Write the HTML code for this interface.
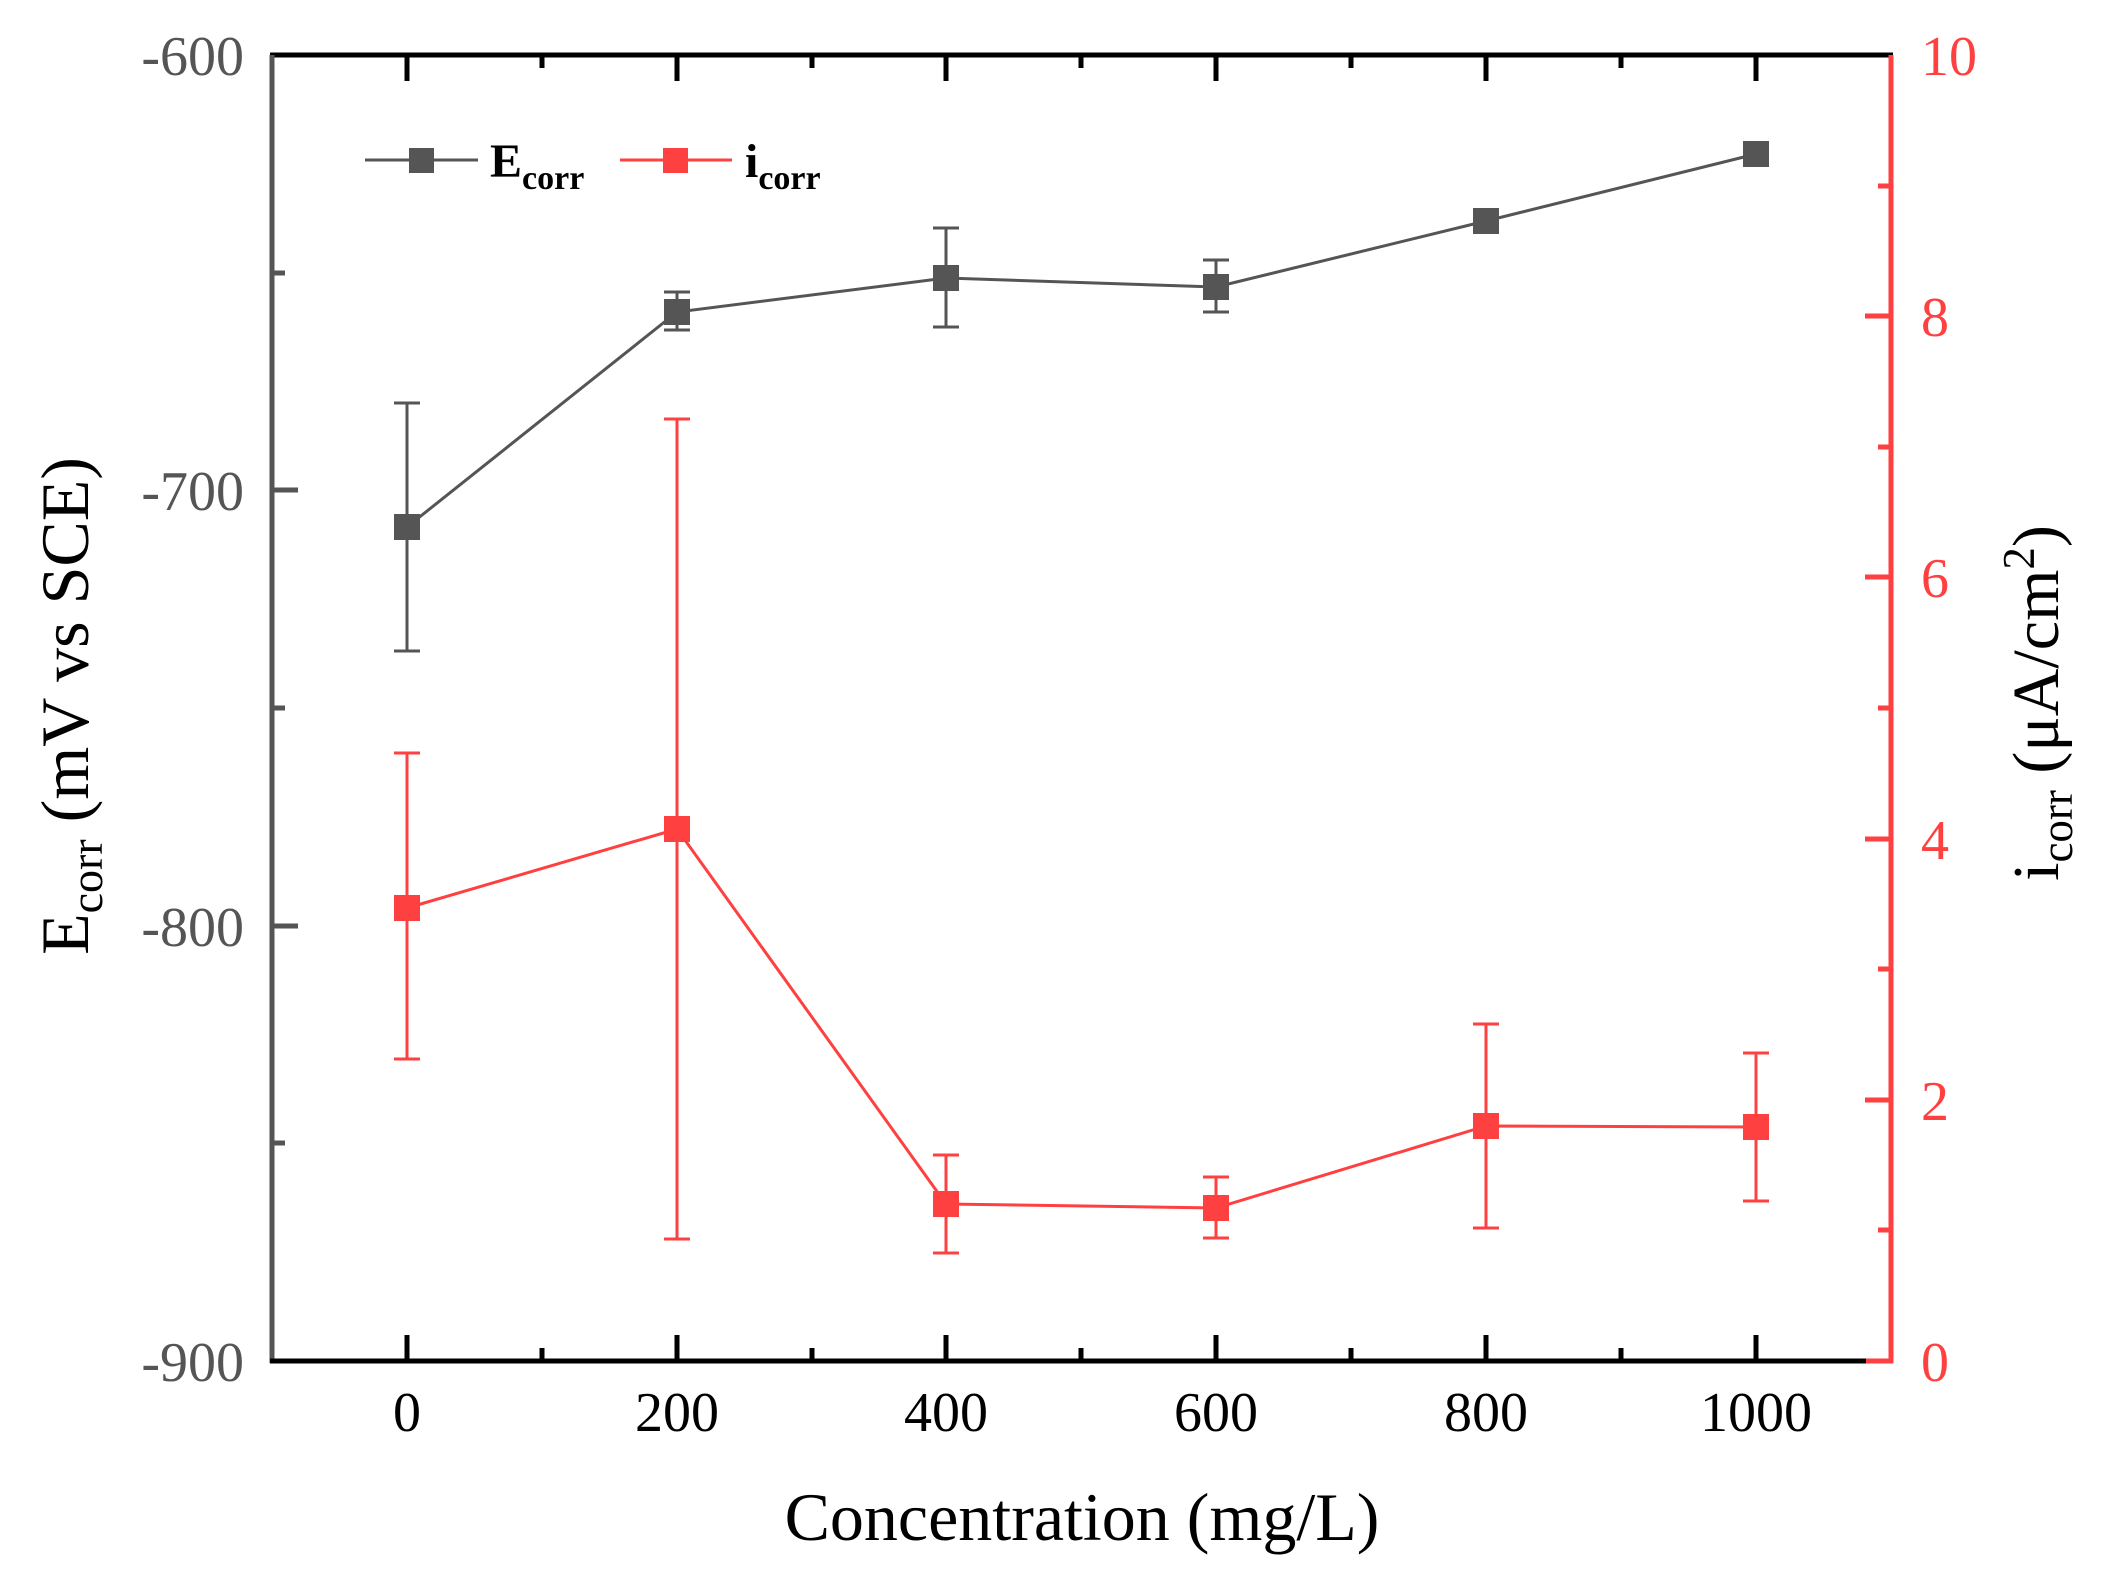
<!DOCTYPE html>
<html><head><meta charset="utf-8"><style>html,body{margin:0;padding:0;background:#fff}svg{display:block}</style></head>
<body>
<svg width="2122" height="1593" viewBox="0 0 2122 1593" xmlns="http://www.w3.org/2000/svg" font-family="Liberation Serif, serif">
<rect width="2122" height="1593" fill="#fff"/>
<!-- axes -->
<line x1="270" y1="55" x2="1893" y2="55" stroke="#000" stroke-width="5"/>
<line x1="272" y1="55" x2="272" y2="1363" stroke="#555" stroke-width="5"/>
<line x1="270" y1="1361" x2="1866" y2="1361" stroke="#000" stroke-width="5"/>
<line x1="1866" y1="1361" x2="1893" y2="1361" stroke="#ff4040" stroke-width="5"/>
<line x1="1891" y1="55" x2="1891" y2="1363" stroke="#ff4040" stroke-width="5"/>
<g stroke="#000" stroke-width="5">
<line x1="407" y1="1361" x2="407" y2="1335"/><line x1="677" y1="1361" x2="677" y2="1335"/><line x1="946" y1="1361" x2="946" y2="1335"/><line x1="1216" y1="1361" x2="1216" y2="1335"/><line x1="1486" y1="1361" x2="1486" y2="1335"/><line x1="1756" y1="1361" x2="1756" y2="1335"/>
<line x1="542" y1="1361" x2="542" y2="1348"/><line x1="812" y1="1361" x2="812" y2="1348"/><line x1="1081" y1="1361" x2="1081" y2="1348"/><line x1="1351" y1="1361" x2="1351" y2="1348"/><line x1="1621" y1="1361" x2="1621" y2="1348"/>
<line x1="407" y1="55" x2="407" y2="81"/><line x1="677" y1="55" x2="677" y2="81"/><line x1="946" y1="55" x2="946" y2="81"/><line x1="1216" y1="55" x2="1216" y2="81"/><line x1="1486" y1="55" x2="1486" y2="81"/><line x1="1756" y1="55" x2="1756" y2="81"/>
<line x1="542" y1="55" x2="542" y2="68"/><line x1="812" y1="55" x2="812" y2="68"/><line x1="1081" y1="55" x2="1081" y2="68"/><line x1="1351" y1="55" x2="1351" y2="68"/><line x1="1621" y1="55" x2="1621" y2="68"/>
</g>
<g stroke="#555" stroke-width="5">
<line x1="272" y1="490" x2="298" y2="490"/><line x1="272" y1="926" x2="298" y2="926"/>
<line x1="272" y1="273" x2="285" y2="273"/><line x1="272" y1="708" x2="285" y2="708"/><line x1="272" y1="1143" x2="285" y2="1143"/>
</g>
<g stroke="#ff4040" stroke-width="5">
<line x1="1891" y1="316" x2="1865" y2="316"/><line x1="1891" y1="577" x2="1865" y2="577"/><line x1="1891" y1="839" x2="1865" y2="839"/><line x1="1891" y1="1100" x2="1865" y2="1100"/>
<line x1="1891" y1="186" x2="1878" y2="186"/><line x1="1891" y1="447" x2="1878" y2="447"/><line x1="1891" y1="708" x2="1878" y2="708"/><line x1="1891" y1="969" x2="1878" y2="969"/><line x1="1891" y1="1230" x2="1878" y2="1230"/>
</g>
<!-- tick labels -->
<g font-size="56" fill="#000" text-anchor="middle">
<text x="407" y="1431">0</text><text x="677" y="1431">200</text><text x="946" y="1431">400</text><text x="1216" y="1431">600</text><text x="1486" y="1431">800</text><text x="1756" y="1431">1000</text>
</g>
<g font-size="56" fill="#555" text-anchor="end">
<text x="244" y="75">-600</text><text x="244" y="510">-700</text><text x="244" y="946">-800</text><text x="244" y="1381">-900</text>
</g>
<g font-size="56" fill="#ff4040" text-anchor="start">
<text x="1921" y="75">10</text><text x="1921" y="336">8</text><text x="1921" y="597">6</text><text x="1921" y="859">4</text><text x="1921" y="1120">2</text><text x="1921" y="1381">0</text>
</g>
<!-- axis titles -->
<text x="1082" y="1540" font-size="68" text-anchor="middle" fill="#000">Concentration (mg/L)</text>
<text transform="translate(88,706) rotate(-90)" font-size="68" text-anchor="middle" fill="#000">E<tspan font-size="46" dy="14">corr</tspan><tspan dy="-14"> (mV vs SCE)</tspan></text>
<text transform="translate(2058,703) rotate(-90)" font-size="66" text-anchor="middle" fill="#000">i<tspan font-size="45" dy="14">corr</tspan><tspan dy="-14"> (μA/cm</tspan><tspan font-size="45" dy="-24">2</tspan><tspan dy="24">)</tspan></text>
<!-- E series -->
<g stroke="#555" stroke-width="3" fill="none">
<polyline points="407,527 677,312 946,278 1216,287 1486,221 1756,154"/>
<line x1="407" y1="403" x2="407" y2="651"/><line x1="394" y1="403" x2="420" y2="403"/><line x1="394" y1="651" x2="420" y2="651"/>
<line x1="677" y1="292" x2="677" y2="330"/><line x1="664" y1="292" x2="690" y2="292"/><line x1="664" y1="330" x2="690" y2="330"/>
<line x1="946" y1="228" x2="946" y2="327"/><line x1="933" y1="228" x2="959" y2="228"/><line x1="933" y1="327" x2="959" y2="327"/>
<line x1="1216" y1="260" x2="1216" y2="312"/><line x1="1203" y1="260" x2="1229" y2="260"/><line x1="1203" y1="312" x2="1229" y2="312"/>
</g>
<g fill="#555">
<rect x="394" y="514" width="26" height="26"/><rect x="664" y="299" width="26" height="26"/><rect x="933" y="265" width="26" height="26"/><rect x="1203" y="274" width="26" height="26"/><rect x="1473" y="208" width="26" height="26"/><rect x="1743" y="141" width="26" height="26"/>
</g>
<!-- i series -->
<g stroke="#ff4040" stroke-width="3" fill="none">
<polyline points="407,908 677,829 946,1204 1216,1208 1486,1126 1756,1127"/>
<line x1="407" y1="753" x2="407" y2="1059"/><line x1="394" y1="753" x2="420" y2="753"/><line x1="394" y1="1059" x2="420" y2="1059"/>
<line x1="677" y1="419" x2="677" y2="1239"/><line x1="664" y1="419" x2="690" y2="419"/><line x1="664" y1="1239" x2="690" y2="1239"/>
<line x1="946" y1="1155" x2="946" y2="1253"/><line x1="933" y1="1155" x2="959" y2="1155"/><line x1="933" y1="1253" x2="959" y2="1253"/>
<line x1="1216" y1="1177" x2="1216" y2="1238"/><line x1="1203" y1="1177" x2="1229" y2="1177"/><line x1="1203" y1="1238" x2="1229" y2="1238"/>
<line x1="1486" y1="1024" x2="1486" y2="1228"/><line x1="1473" y1="1024" x2="1499" y2="1024"/><line x1="1473" y1="1228" x2="1499" y2="1228"/>
<line x1="1756" y1="1053" x2="1756" y2="1201"/><line x1="1743" y1="1053" x2="1769" y2="1053"/><line x1="1743" y1="1201" x2="1769" y2="1201"/>
</g>
<g fill="#ff4040">
<rect x="394" y="895" width="26" height="26"/><rect x="664" y="816" width="26" height="26"/><rect x="933" y="1191" width="26" height="26"/><rect x="1203" y="1195" width="26" height="26"/><rect x="1473" y="1113" width="26" height="26"/><rect x="1743" y="1114" width="26" height="26"/>
</g>
<!-- legend -->
<line x1="365" y1="160" x2="478" y2="160" stroke="#555" stroke-width="3"/>
<rect x="409" y="148" width="25" height="25" fill="#555"/>
<text x="490" y="177" font-size="48" font-weight="bold" fill="#000">E<tspan font-size="34" dy="12">corr</tspan></text>
<line x1="620" y1="160" x2="732" y2="160" stroke="#ff4040" stroke-width="3"/>
<rect x="663" y="148" width="25" height="25" fill="#ff4040"/>
<text x="745" y="177" font-size="48" font-weight="bold" fill="#000">i<tspan font-size="34" dy="12">corr</tspan></text>
</svg>
</body></html>
